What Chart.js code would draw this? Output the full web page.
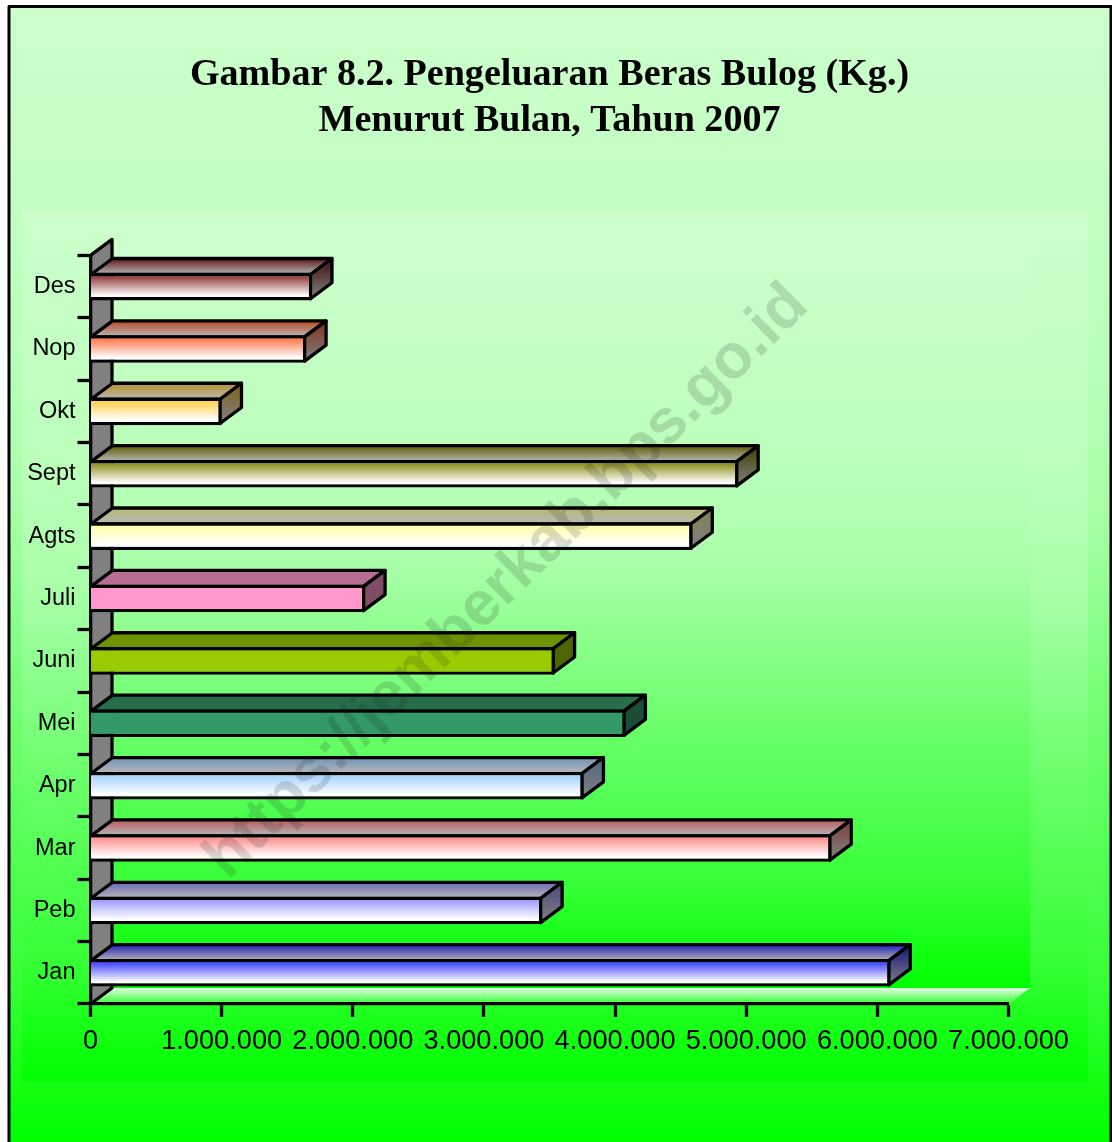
<!DOCTYPE html>
<html>
<head>
<meta charset="utf-8">
<style>html,body{margin:0;padding:0;background:#fff}canvas{display:block}</style>
<script src="https://cdn.jsdelivr.net/npm/chart.js@4/dist/chart.umd.min.js"></script>
</head>
<body>
<canvas id="c" width="1112" height="1142"></canvas>
<script>
const categories = ["Jan","Peb","Mar","Apr","Mei","Juni","Juli","Agts","Sept","Okt","Nop","Des"];
const pengeluaran = [6100000,3445000,5650000,3760000,4080000,3540000,2095000,4590000,4940000,1000000,1645000,1690000];
const topColors = ["#2a2aff","#8f8fff","#ff8080","#99ccff","#339966","#99cc00","#ff99cc","#ffffa0","#808000","#ffc833","#ff6633","#802020"];
const bottomColors = ["#ffffff","#ffffff","#ffffff","#ffffff","#339966","#99cc00","#ff99cc","#ffffff","#ffffff","#ffffff","#ffffff","#ffffff"];
const titleLines = ["Gambar 8.2. Pengeluaran Beras Bulog (Kg.)","Menurut Bulan, Tahun 2007"];
const watermark = "https://jemberkab.bps.go.id";
const maxValue = 7000000, stepValue = 1000000;

const DX = 21.5, DY = 16, LW = 3.3;
const curve = [[0,204],[0.3,186],[0.43,170],[0.67,102],[0.86,55],[0.93,27],[1,0]];

function greenGrad(ctx, y0, y1){
  const g = ctx.createLinearGradient(0,y0,0,y1);
  curve.forEach(([t,r]) => g.addColorStop(t,`rgb(${r},255,${r})`));
  return g;
}
function shade(hex,f){
  const n = parseInt(hex.slice(1),16);
  return `rgb(${Math.round((n>>16&255)*f)},${Math.round((n>>8&255)*f)},${Math.round((n&255)*f)})`;
}
function poly(ctx,pts,fill,stroke){
  ctx.beginPath();
  pts.forEach((p,i)=> i?ctx.lineTo(p[0],p[1]):ctx.moveTo(p[0],p[1]));
  ctx.closePath();
  if(fill){ctx.fillStyle=fill;ctx.fill();}
  if(stroke){ctx.lineWidth=LW;ctx.strokeStyle="#000";ctx.lineJoin="round";ctx.stroke();}
}

const scenery = {
  id:"scenery",
  beforeDraw(chart){
    const ctx = chart.ctx, a = chart.chartArea;
    ctx.save();
    ctx.fillStyle="#fff"; ctx.fillRect(0,0,1112,1142);
    ctx.fillStyle=greenGrad(ctx,8,1142); ctx.fillRect(9,7,1102,1140);
    ctx.fillStyle=greenGrad(ctx,210,1081); ctx.fillRect(22,210,1066,871);
    // back wall of the plot
    ctx.fillStyle=greenGrad(ctx,a.top-DY,a.bottom-DY);
    ctx.fillRect(a.left+DX,a.top-DY,a.right-a.left,a.bottom-a.top);
    // floor
    const fg = ctx.createLinearGradient(0,a.bottom-DY,0,a.bottom);
    fg.addColorStop(0,"#e4ffe4"); fg.addColorStop(1,"#30ff30");
    poly(ctx,[[a.left,a.bottom],[a.left+DX,a.bottom-DY],[a.right+DX,a.bottom-DY],[a.right,a.bottom]],fg);
    // side wall
    poly(ctx,[[a.left,a.top],[a.left+DX,a.top-DY],[a.left+DX,a.bottom-DY],[a.left,a.bottom]],"#808080");
    ctx.strokeStyle="#000"; ctx.lineWidth=LW; ctx.lineJoin="round";
    ctx.beginPath();
    ctx.moveTo(a.left,a.top); ctx.lineTo(a.left+DX,a.top-DY); ctx.lineTo(a.left+DX,a.bottom-DY); ctx.lineTo(a.left,a.bottom);
    ctx.stroke();
    // page frame
    ctx.strokeStyle="#000"; ctx.lineWidth=3;
    ctx.strokeRect(9,6.5,1102,1160);
    ctx.restore();
  },
  beforeDatasetsDraw(chart){
    const ctx = chart.ctx;
    ctx.save();
    chart.getDatasetMeta(0).data.forEach((bar,i)=>{
      const top = bar.y-bar.height/2+LW/2, bot = bar.y+bar.height/2-LW/2;
      const l = bar.base, r = bar.x-LW/2;
      const tg = ctx.createLinearGradient(0,top-DY,0,top);
      tg.addColorStop(0,shade(topColors[i],0.72)); tg.addColorStop(1,shade(bottomColors[i],0.72));
      poly(ctx,[[l,top],[l+DX,top-DY],[r+DX,top-DY],[r,top]],tg,true);
      const sg = ctx.createLinearGradient(0,top-DY,0,bot);
      sg.addColorStop(0,shade(topColors[i],0.5)); sg.addColorStop(1,shade(bottomColors[i],0.5));
      poly(ctx,[[r,top],[r+DX,top-DY],[r+DX,bot-DY],[r,bot]],sg,true);
    });
    ctx.restore();
  },
  afterDraw(chart){
    const ctx = chart.ctx;
    ctx.save();
    ctx.translate(507,582);
    ctx.rotate(-44.5*Math.PI/180);
    ctx.font='bold 62.6px "Liberation Sans"';
    ctx.textAlign="center"; ctx.textBaseline="middle";
    ctx.fillStyle="rgba(30,30,30,0.16)";
    ctx.fillText(watermark,0,0);
    ctx.restore();
  }
};

new Chart(document.getElementById("c"),{
  type:"bar",
  plugins:[scenery],
  data:{
    labels:categories,
    datasets:[{
      data:pengeluaran,
      borderColor:"#000",
      borderWidth:LW,
      borderSkipped:"start",
      categoryPercentage:1,
      barPercentage:0.442,
      backgroundColor(c){
        const i = c.dataIndex;
        if(i===undefined) return "#000";
        const s = c.chart.scales.y, y = s ? s.getPixelForValue(i) : NaN, h = 13;
        if(!Number.isFinite(y)) return topColors[i];
        const g = c.chart.ctx.createLinearGradient(0,y-h,0,y+h);
        g.addColorStop(0,topColors[i]); g.addColorStop(0.85,bottomColors[i]); g.addColorStop(1,bottomColors[i]);
        return g;
      }
    }]
  },
  options:{
    indexAxis:"y",
    responsive:false,
    animation:false,
    layout:{padding:{right:103.5}},
    plugins:{
      legend:{display:false},
      tooltip:{enabled:false},
      title:{
        display:true,
        fullSize:false,
        text:titleLines,
        color:"#000",
        font:{family:'"Liberation Serif"',size:38.1,weight:"bold",lineHeight:1.2},
        padding:{top:52.5,bottom:111.5}
      }
    },
    scales:{
      x:{
        type:"linear",min:0,max:maxValue,
        afterFit(s){s.height=138;},
        border:{color:"#000",width:LW},
        grid:{drawOnChartArea:false,drawTicks:true,tickLength:13,tickColor:"#000",tickWidth:LW},
        ticks:{
          stepSize:stepValue,color:"#000",maxRotation:0,autoSkip:false,padding:8,
          font:{family:'"Liberation Sans"',size:27.2},
          callback:v=>String(v).replace(/\B(?=(\d{3})+$)/g,".")
        }
      },
      y:{
        type:"category",reverse:true,
        afterFit(s){s.width=90.5;},
        border:{color:"#000",width:LW},
        grid:{drawOnChartArea:false,drawTicks:true,tickLength:13,tickColor:"#000",tickWidth:LW,offset:true},
        ticks:{color:"#000",padding:2,autoSkip:false,font:{family:'"Liberation Sans"',size:23.5}}
      }
    }
  }
});
</script>
</body>
</html>
